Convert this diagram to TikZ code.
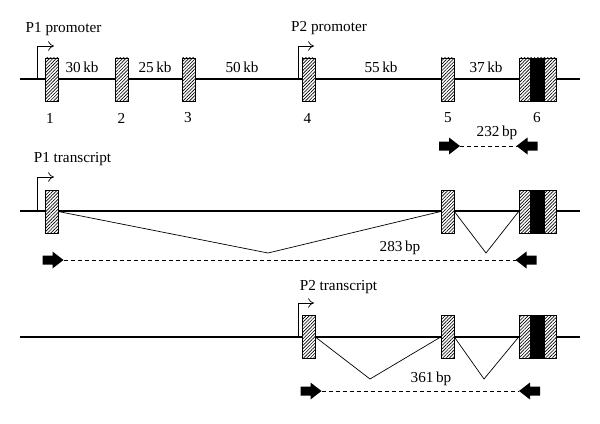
\documentclass[tikz,border=0pt]{standalone}
\usepackage{fontspec}
\setmainfont{Liberation Serif}
\usetikzlibrary{patterns.meta,arrows.meta}

\begin{document}
\begin{tikzpicture}[x=0.03cm,y=-0.03cm,
    font=\fontsize{13}{15}\selectfont,
    exon/.style={draw,line width=0.6pt,inner sep=0pt,minimum width=0.39cm,minimum height=1.29cm,
      preaction={fill=white},pattern={Lines[angle=45,distance=2pt,line width=0.55pt]}},
    lastexon/.style={exon,minimum width=1.11cm},
    core/.style={fill=black,inner sep=0pt,minimum width=0.45cm,minimum height=1.29cm},
    gene/.style={line width=1.3pt},
    splice/.style={line width=0.6pt},
    prom/.style={line width=0.6pt,-{To[length=5pt,width=8pt]}},
    primer/.pic={
      \fill (-10,-4.5) -- (0,-4.5) -- (0,-8.5) -- (11,0) -- (0,8.5) -- (0,4.5) -- (-10,4.5) -- cycle;
      \coordinate (-tip) at (11,0);},
    pcr/.style={line width=0.7pt,dash pattern=on 3.5pt off 2.5pt}]
    \useasboundingbox (0,0) rectangle (600,423);

    % genomic locus
    \coordinate (a0) at (20,79);
    \coordinate (a9) at (580,79);
    \draw[gene] (a0) -- (a9);
    \coordinate (p1) at (37,79);
    \coordinate (p1t) at (54,46);
    \draw[prom] (p1) |- (p1t);
    \coordinate (p2) at (298,79);
    \coordinate (p2t) at (314,46);
    \draw[prom] (p2) |- (p2t);
    \node (p1lab) at (63.5,29) {P1 promoter};
    \node (p2lab) at (329,28) {P2 promoter};
    \node[exon] (a1) at (51.5,79.5) {};
    \node[exon] (a2) at (122,79.5) {};
    \node[exon] (a3) at (188.5,79.5) {};
    \node[exon] (a4) at (308.5,79.5) {};
    \node[exon] (a5) at (447.5,79.5) {};
    \node[lastexon] (a6) at (537.5,79.5) {};
    \node[core] at (a6) {};
    \node (k1) at (82,67) {30\,kb};
    \node (k2) at (155,67) {25\,kb};
    \node (k3) at (242,67) {50\,kb};
    \node (k4) at (381,67) {55\,kb};
    \node (k5) at (486,67) {37\,kb};
    \node (n1) at (50,118) {1};
    \node (n2) at (121.5,118) {2};
    \node (n3) at (188,118) {3};
    \node (n4) at (307.5,118) {4};
    \node (n5) at (448,118) {5};
    \node (n6) at (537,118) {6};
    \pic (f1) at (449,146) {primer};
    \pic[rotate=180] (r1) at (527.5,146) {primer};
    \draw[pcr] (f1-tip) -- (r1-tip);
    \node (bp1) at (497,133) {232\,bp};

    % P1 transcript
    \coordinate (b0) at (20,211);
    \coordinate (b9) at (580,211);
    \draw[gene] (b0) -- (b9);
    \coordinate (q1) at (37,211);
    \coordinate (q1t) at (54,177);
    \draw[prom] (q1) |- (q1t);
    \node (q1lab) at (72.5,159) {P1 transcript};
    \node[exon] (b1) at (51.5,211.5) {};
    \node[exon] (b5) at (447.5,211.5) {};
    \node[lastexon] (b6) at (537.5,211.5) {};
    \node[core] at (b6) {};
    \coordinate (v1) at (268,253);
    \coordinate (v2) at (486,253);
    \draw[splice] (b1.east) -- (v1) -- (b5.west);
    \draw[splice] (b5.east) -- (v2) -- (b6.west);
    \pic (f2) at (52.5,260) {primer};
    \pic[rotate=180] (r2) at (526.5,260) {primer};
    \draw[pcr] (f2-tip) -- (r2-tip);
    \node (bp2) at (400,248) {283\,bp};

    % P2 transcript
    \coordinate (c0) at (20,337);
    \coordinate (c9) at (580,337);
    \draw[gene] (c0) -- (c9);
    \coordinate (q2) at (298,337);
    \coordinate (q2t) at (314,303);
    \draw[prom] (q2) |- (q2t);
    \node (q2lab) at (338.5,287) {P2 transcript};
    \node[exon] (c4) at (308.5,337) {};
    \node[exon] (c5) at (447.5,337) {};
    \node[lastexon] (c6) at (537.5,337) {};
    \node[core] at (c6) {};
    \coordinate (w1) at (370,379);
    \coordinate (w2) at (484,379);
    \draw[splice] (c4.east) -- (w1) -- (c5.west);
    \draw[splice] (c5.east) -- (w2) -- (c6.west);
    \pic (f3) at (310.5,391) {primer};
    \pic[rotate=180] (r3) at (530,391) {primer};
    \draw[pcr] (f3-tip) -- (r3-tip);
    \node (bp3) at (431,379) {361\,bp};
\end{tikzpicture}
\end{document}
